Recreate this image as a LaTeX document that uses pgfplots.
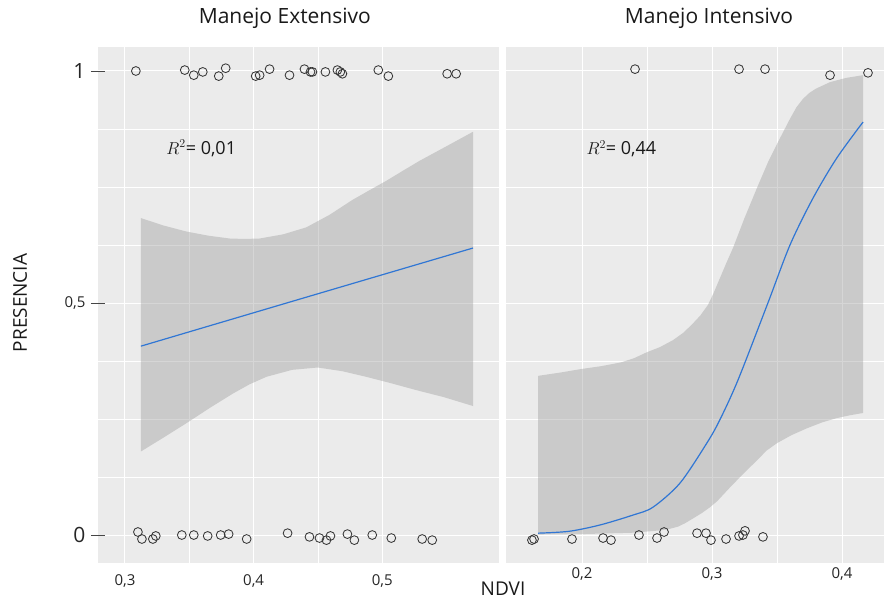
\documentclass[border=0pt]{standalone}
\usepackage{fontspec}
\setmainfont{Open Sans}
\usepackage{pgfplots}
\pgfplotsset{compat=1.18}

\definecolor{panelbg}{RGB}{235,235,235}
\definecolor{bandgray}{RGB}{153,153,153}
\definecolor{fitblue}{RGB}{48,118,212}
\definecolor{ptgray}{RGB}{55,55,55}
\definecolor{tickgray}{RGB}{70,70,70}

\pgfplotsset{
  facet/.style={
    scale only axis, anchor=south west, height=516pt,
    ymin=-0.0603, ymax=1.0517,
    axis background/.style={fill=panelbg},
    axis line style={draw=none},
    grid=both,
    major grid style={white, line width=1pt},
    minor grid style={white, line width=0.6pt},
    minor x tick num=1,
    ytick={0,0.5,1},
    minor ytick={0.125,0.25,0.375,0.625,0.75,0.875},
    xtick style={draw=none},
    minor tick length=0pt,
    ytick pos=left,
    /pgf/number format/assume math mode=true,
    ticklabel style={font=\fontsize{15}{17}\selectfont, text=black!85},
    xticklabel style={yshift=-1pt},
    title style={font=\fontsize{21}{24}\selectfont, anchor=base, text=black!90},
  },
  pts/.style={only marks, mark=o, mark size=4.4pt,
    mark options={draw=ptgray, line width=0.85pt}},
  fit/.style={fitblue, line width=1.2pt, smooth, no marks},
  band/.style={fill=bandgray, fill opacity=0.4, draw=none, no marks},
}

\begin{document}
\begin{tikzpicture}
\useasboundingbox (0pt,0pt) rectangle (884pt,-599pt);

% Manejo Extensivo
\begin{axis}[facet,
  at={(98pt,-563pt)}, width=401pt,
  xmin=0.27907, xmax=0.5907,
  xtick={0.3,0.4,0.5}, xticklabels={{0,3},{0,4},{0,5}},
  yticklabels={{\fontsize{21}{23}\selectfont 0},{0,5},{\fontsize{21}{23}\selectfont 1}},
  ytick style={draw=tickgray, line width=0.7pt},
  major tick length=14pt, tick align=center,
  yticklabel style={xshift=-2pt},
  title={Manejo Extensivo},
  title style={at={(axis description cs:0.466,1)}, yshift=17pt},
  ylabel={PRESENCIA},
  ylabel style={at={(axis description cs:-0.1945,0.504)}, anchor=center,
    font=\fontsize{19}{22}\selectfont, text=black!90},
  xlabel={NDVI},
  xlabel style={at={(axis description cs:1.01,-0.063)}, anchor=base,
    inner sep=0pt, font=\fontsize{19}{22}\selectfont, text=black!90},
]
% confidence band: upper edge left to right, then lower edge right to left
\addplot[band] coordinates {
  (0.3124,0.683)(0.3300,0.667)(0.3478,0.654)(0.3650,0.645)(0.3814,0.639)
  (0.3930,0.638)(0.4047,0.639)(0.4230,0.648)(0.4409,0.663)(0.4590,0.690)
  (0.4767,0.722)(0.4900,0.743)(0.5029,0.763)(0.5160,0.785)(0.5287,0.806)
  (0.5500,0.838)(0.5705,0.869)
  (0.5705,0.278)(0.5480,0.297)(0.5261,0.3125)(0.5070,0.327)(0.4874,0.341)
  (0.4690,0.353)(0.4499,0.361)(0.4300,0.356)(0.4100,0.341)(0.3970,0.325)
  (0.3840,0.305)(0.3660,0.274)(0.3478,0.241)(0.3300,0.210)(0.3124,0.180)
};
\addplot[fit] coordinates {(0.3124,0.407)(0.4415,0.513)(0.5705,0.6185)};
\addplot[pts] coordinates {
  (0.3085,1.000)(0.3465,1.002)(0.3535,0.991)(0.3605,0.998)(0.3729,0.989)
  (0.3783,1.006)(0.4016,0.989)(0.4047,0.991)(0.4124,1.004)(0.4279,0.991)
  (0.4395,1.004)(0.4442,0.998)(0.4457,0.998)(0.4558,0.998)(0.4651,1.002)
  (0.4674,0.998)(0.4690,0.994)(0.4969,1.002)(0.5047,0.989)(0.5504,0.994)
  (0.5574,0.994)};
\addplot[pts] coordinates {
  (0.3101,0.0065)(0.3132,-0.0086)(0.3217,-0.0086)(0.3240,-0.002)(0.3442,0)
  (0.3535,0)(0.3643,-0.002)(0.3744,0)(0.3806,0.002)(0.3946,-0.0086)
  (0.4264,0.004)(0.4434,-0.004)(0.4512,-0.0065)(0.4566,-0.011)(0.4597,-0.002)
  (0.4729,0.002)(0.4783,-0.011)(0.4922,0)(0.5070,-0.0065)(0.5310,-0.0086)
  (0.5388,-0.011)};
\node[anchor=base west, font=\fontsize{18}{20}\selectfont, text=black!90]
  at (axis cs:0.3295,0.821) {$R^2$= 0,01};
\end{axis}

% Manejo Intensivo
\begin{axis}[facet,
  at={(506pt,-563pt)}, width=378pt,
  xmin=0.14154, xmax=0.43231,
  xtick={0.2,0.3,0.4}, xticklabels={{0,2},{0,3},{0,4}},
  yticklabels={}, ytick style={draw=none},
  title={Manejo Intensivo},
  title style={at={(axis description cs:0.537,1)}, yshift=17pt},
]
\addplot[band] coordinates {
  (0.1662,0.343)(0.1830,0.350)(0.2000,0.358)(0.2150,0.364)(0.2300,0.372)
  (0.2400,0.381)(0.2500,0.394)(0.2600,0.405)(0.2700,0.420)(0.2780,0.436)
  (0.2850,0.455)(0.2910,0.473)(0.2969,0.496)(0.3010,0.520)(0.3060,0.553)
  (0.3110,0.586)(0.3162,0.619)(0.3250,0.683)(0.3346,0.748)(0.3430,0.803)
  (0.3508,0.847)(0.3600,0.897)(0.3650,0.922)(0.3700,0.940)(0.3750,0.953)
  (0.3800,0.962)(0.3908,0.976)(0.4030,0.985)(0.4162,0.991)
  (0.4162,0.263)(0.4060,0.258)(0.3960,0.252)(0.3850,0.243)(0.3730,0.230)
  (0.3610,0.215)(0.3500,0.198)(0.3420,0.182)(0.3350,0.162)(0.3270,0.140)
  (0.3192,0.118)(0.3140,0.103)(0.3090,0.088)(0.3040,0.073)(0.2985,0.060)
  (0.2920,0.047)(0.2850,0.035)(0.2790,0.025)(0.2738,0.018)(0.2670,0.013)
  (0.2600,0.010)(0.2400,0.005)(0.2000,0.002)(0.1662,0.001)
};
\addplot[fit] coordinates {
  (0.1662,0.004)(0.1900,0.008)(0.2138,0.0216)(0.2392,0.043)(0.2546,0.060)
  (0.2754,0.112)(0.2960,0.198)(0.3060,0.248)(0.3200,0.334)(0.3430,0.500)
  (0.3600,0.625)(0.3777,0.726)(0.3960,0.8125)(0.4162,0.890)};
\addplot[pts] coordinates {
  (0.2408,1.004)(0.3208,1.004)(0.3408,1.004)(0.3908,0.991)(0.4200,0.996)};
\addplot[pts] coordinates {
  (0.1615,-0.011)(0.1631,-0.0086)(0.1923,-0.0086)(0.2162,-0.0065)(0.2223,-0.011)
  (0.2438,0)(0.2577,-0.0065)(0.2631,0.0065)(0.2885,0.004)(0.2954,0.004)
  (0.2992,-0.011)(0.3108,-0.0086)(0.3208,-0.002)(0.3238,0)(0.3254,0.009)
  (0.3392,-0.004)};
\node[anchor=base west, font=\fontsize{18}{20}\selectfont, text=black!90]
  at (axis cs:0.2008,0.819) {$R^2$= 0,44};
\end{axis}
\end{tikzpicture}
\end{document}
